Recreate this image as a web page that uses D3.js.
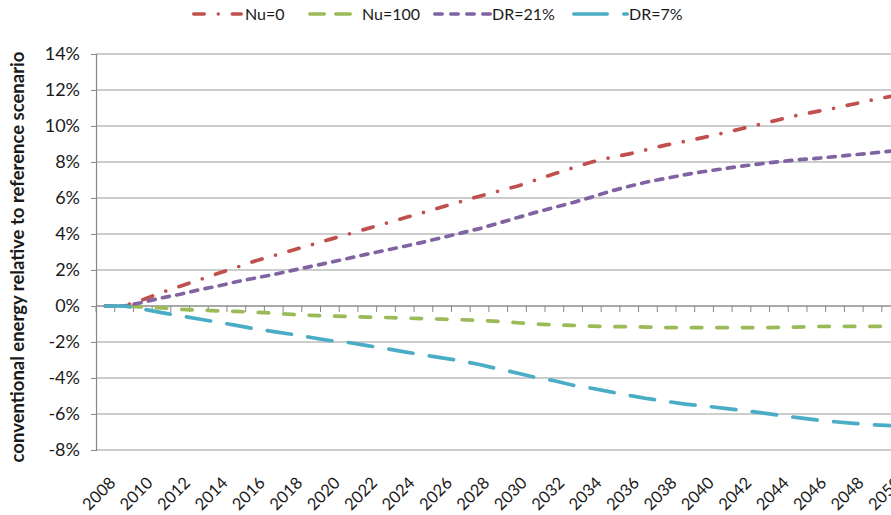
<!DOCTYPE html>
<html><head><meta charset="utf-8">
<script src="https://cdn.jsdelivr.net/npm/d3@7/dist/d3.min.js"></script>
<style>
body{margin:0;background:#fff}
svg{display:block}
text{font-family:Lato,"Noto Sans",sans-serif;fill:#1a1a1a}
</style></head>
<body><svg id="chart" width="891" height="515"></svg>
<script>
// ---- data ----
const years = [2008,2009,2010,2011,2012,2013,2014,2015,2016,2017,2018,2019,2020,2021,2022,2023,2024,2025,2026,2027,2028,2029,2030,2031,2032,2033,2034,2035,2036,2037,2038,2039,2040,2041,2042,2043,2044,2045,2046,2047,2048,2049,2050];
const xTickLabels = ["2008","2010","2012","2014","2016","2018","2020","2022","2024","2026","2028","2030","2032","2034","2036","2038","2040","2042","2044","2046","2048","2050"];
const yTicks = [-8,-6,-4,-2,0,2,4,6,8,10,12,14];
const seriesNames = ["Nu=0","Nu=100","DR=21%","DR=7%"];
const nu0 = [0,0,0.35,0.75,1.1,1.45,1.8,2.15,2.5,2.8,3.1,3.4,3.7,4.0,4.3,4.6,4.9,5.2,5.5,5.8,6.1,6.38,6.65,7.0,7.35,7.68,8.0,8.25,8.45,8.7,8.95,9.15,9.37,9.6,9.85,10.1,10.35,10.6,10.8,11.0,11.22,11.45,11.65];
const nu100 = [0,0,-0.05,-0.1,-0.18,-0.23,-0.27,-0.3,-0.35,-0.4,-0.47,-0.52,-0.55,-0.58,-0.62,-0.64,-0.67,-0.7,-0.73,-0.76,-0.8,-0.85,-0.93,-1.0,-1.05,-1.08,-1.12,-1.15,-1.15,-1.17,-1.2,-1.2,-1.2,-1.2,-1.2,-1.2,-1.19,-1.17,-1.14,-1.13,-1.13,-1.13,-1.13];
const dr21 = [0,0,0.2,0.45,0.65,0.9,1.1,1.35,1.55,1.75,1.98,2.2,2.42,2.65,2.88,3.1,3.32,3.55,3.8,4.05,4.3,4.6,4.9,5.2,5.48,5.75,6.05,6.38,6.65,6.9,7.1,7.3,7.47,7.62,7.77,7.9,8.02,8.12,8.2,8.3,8.4,8.5,8.6];
const dr7 = [0,0,-0.17,-0.37,-0.55,-0.72,-0.9,-1.08,-1.27,-1.42,-1.58,-1.75,-1.92,-2.03,-2.2,-2.37,-2.55,-2.72,-2.88,-3.05,-3.25,-3.5,-3.72,-3.97,-4.15,-4.4,-4.57,-4.77,-4.97,-5.15,-5.3,-5.45,-5.55,-5.67,-5.8,-5.92,-6.07,-6.2,-6.33,-6.43,-6.52,-6.6,-6.65];

// ---- styles ----
const colors = ["#C0504D","#9BBB59","#8064A2","#4BACC6"];
const dashes = ["10.5,14,0,14","10.5,15","7,7.5","24.5,16.5"];
const legendDashes = ["10.5,14,0,14","14.5,11.5","7.5,8.5","33.5,16.5"];
const legendLen = [47.5,40.5,55.5,53.5];
const legendTextOff = [53,54,59,57];
const legendX = [192,308,433,572];

const svg = d3.select("#chart");
const pLeft = 96, pRight = 900.5, pTop = 54, pBottom = 450;

const x = d3.scaleBand().domain(years).range([pLeft, pRight]).paddingInner(0).paddingOuter(0);
const xc = d => x(d) + x.bandwidth()/2;
const y = d3.scaleLinear().domain([-8,14]).range([pBottom, pTop]);

// gridlines
svg.append("g").selectAll("line").data(yTicks).join("line")
  .attr("x1", pLeft).attr("x2", pRight)
  .attr("y1", d => y(d)).attr("y2", d => y(d))
  .attr("stroke", "#BDBDBD").attr("stroke-width", 1.5);

// y axis
const yAxis = d3.axisLeft(y).tickValues(yTicks).tickSize(5).tickPadding(11).tickFormat(d => d + "%");
const gy = svg.append("g").attr("transform", `translate(${pLeft},0)`).call(yAxis);
gy.select(".domain").attr("stroke", "#868686").attr("stroke-width", 1.2);
gy.selectAll(".tick line").attr("stroke", "#868686");
gy.selectAll(".tick text").style("font-size", "18px").attr("fill", "#1a1a1a").attr("font-family", null);

// x axis at 0%
const boundaries = years.map(d => x(d)).concat([pRight]);
const gx = svg.append("g");
gx.append("line").attr("x1", pLeft).attr("x2", pRight).attr("y1", y(0)).attr("y2", y(0))
  .attr("stroke", "#868686").attr("stroke-width", 1.2);
gx.selectAll("line.tk").data(boundaries).join("line").attr("class","tk")
  .attr("x1", d => d).attr("x2", d => d).attr("y1", y(0)).attr("y2", y(0) + 6)
  .attr("stroke", "#868686").attr("stroke-width", 1);

// x labels
svg.append("g").selectAll("text").data(xTickLabels).join("text")
  .attr("transform", d => `translate(${xc(+d) + 7},${480}) rotate(-45)`)
  .attr("text-anchor", "end").attr("dy", "0.35em")
  .style("font-size", "16.5px").text(d => d);

// axis title
svg.append("text")
  .attr("transform", "translate(18,257) rotate(-90)")
  .attr("text-anchor", "middle").attr("dy", "0.35em")
  .style("font-size", "18.5px").style("font-weight", "bold")
  .text("conventional energy relative to reference scenario");

// lines
const allSeries = [nu0, nu100, dr21, dr7];
const line = d3.line().x((d, i) => xc(years[i])).y(d => y(d));
svg.append("g").selectAll("path").data(allSeries).join("path")
  .attr("d", d => line(d))
  .attr("fill", "none")
  .attr("stroke", (d, i) => colors[i])
  .attr("stroke-width", 3.7)
  .attr("stroke-linecap", "round")
  .attr("stroke-linejoin", "round")
  .attr("stroke-dasharray", (d, i) => dashes[i]);

// legend
const lg = svg.append("g").selectAll("g").data(seriesNames).join("g")
  .attr("transform", (d, i) => `translate(${legendX[i]},14)`);
lg.append("line")
  .attr("x1", 1.75).attr("x2", (d, i) => 1.75 + legendLen[i])
  .attr("y1", 0).attr("y2", 0)
  .attr("stroke", (d, i) => colors[i]).attr("stroke-width", 3.5)
  .attr("stroke-linecap", "round")
  .attr("stroke-dasharray", (d, i) => legendDashes[i]);
lg.append("text").attr("x", (d, i) => legendTextOff[i]).attr("dy", "0.35em")
  .style("font-size", "16px").text(d => d);
</script></body></html>
